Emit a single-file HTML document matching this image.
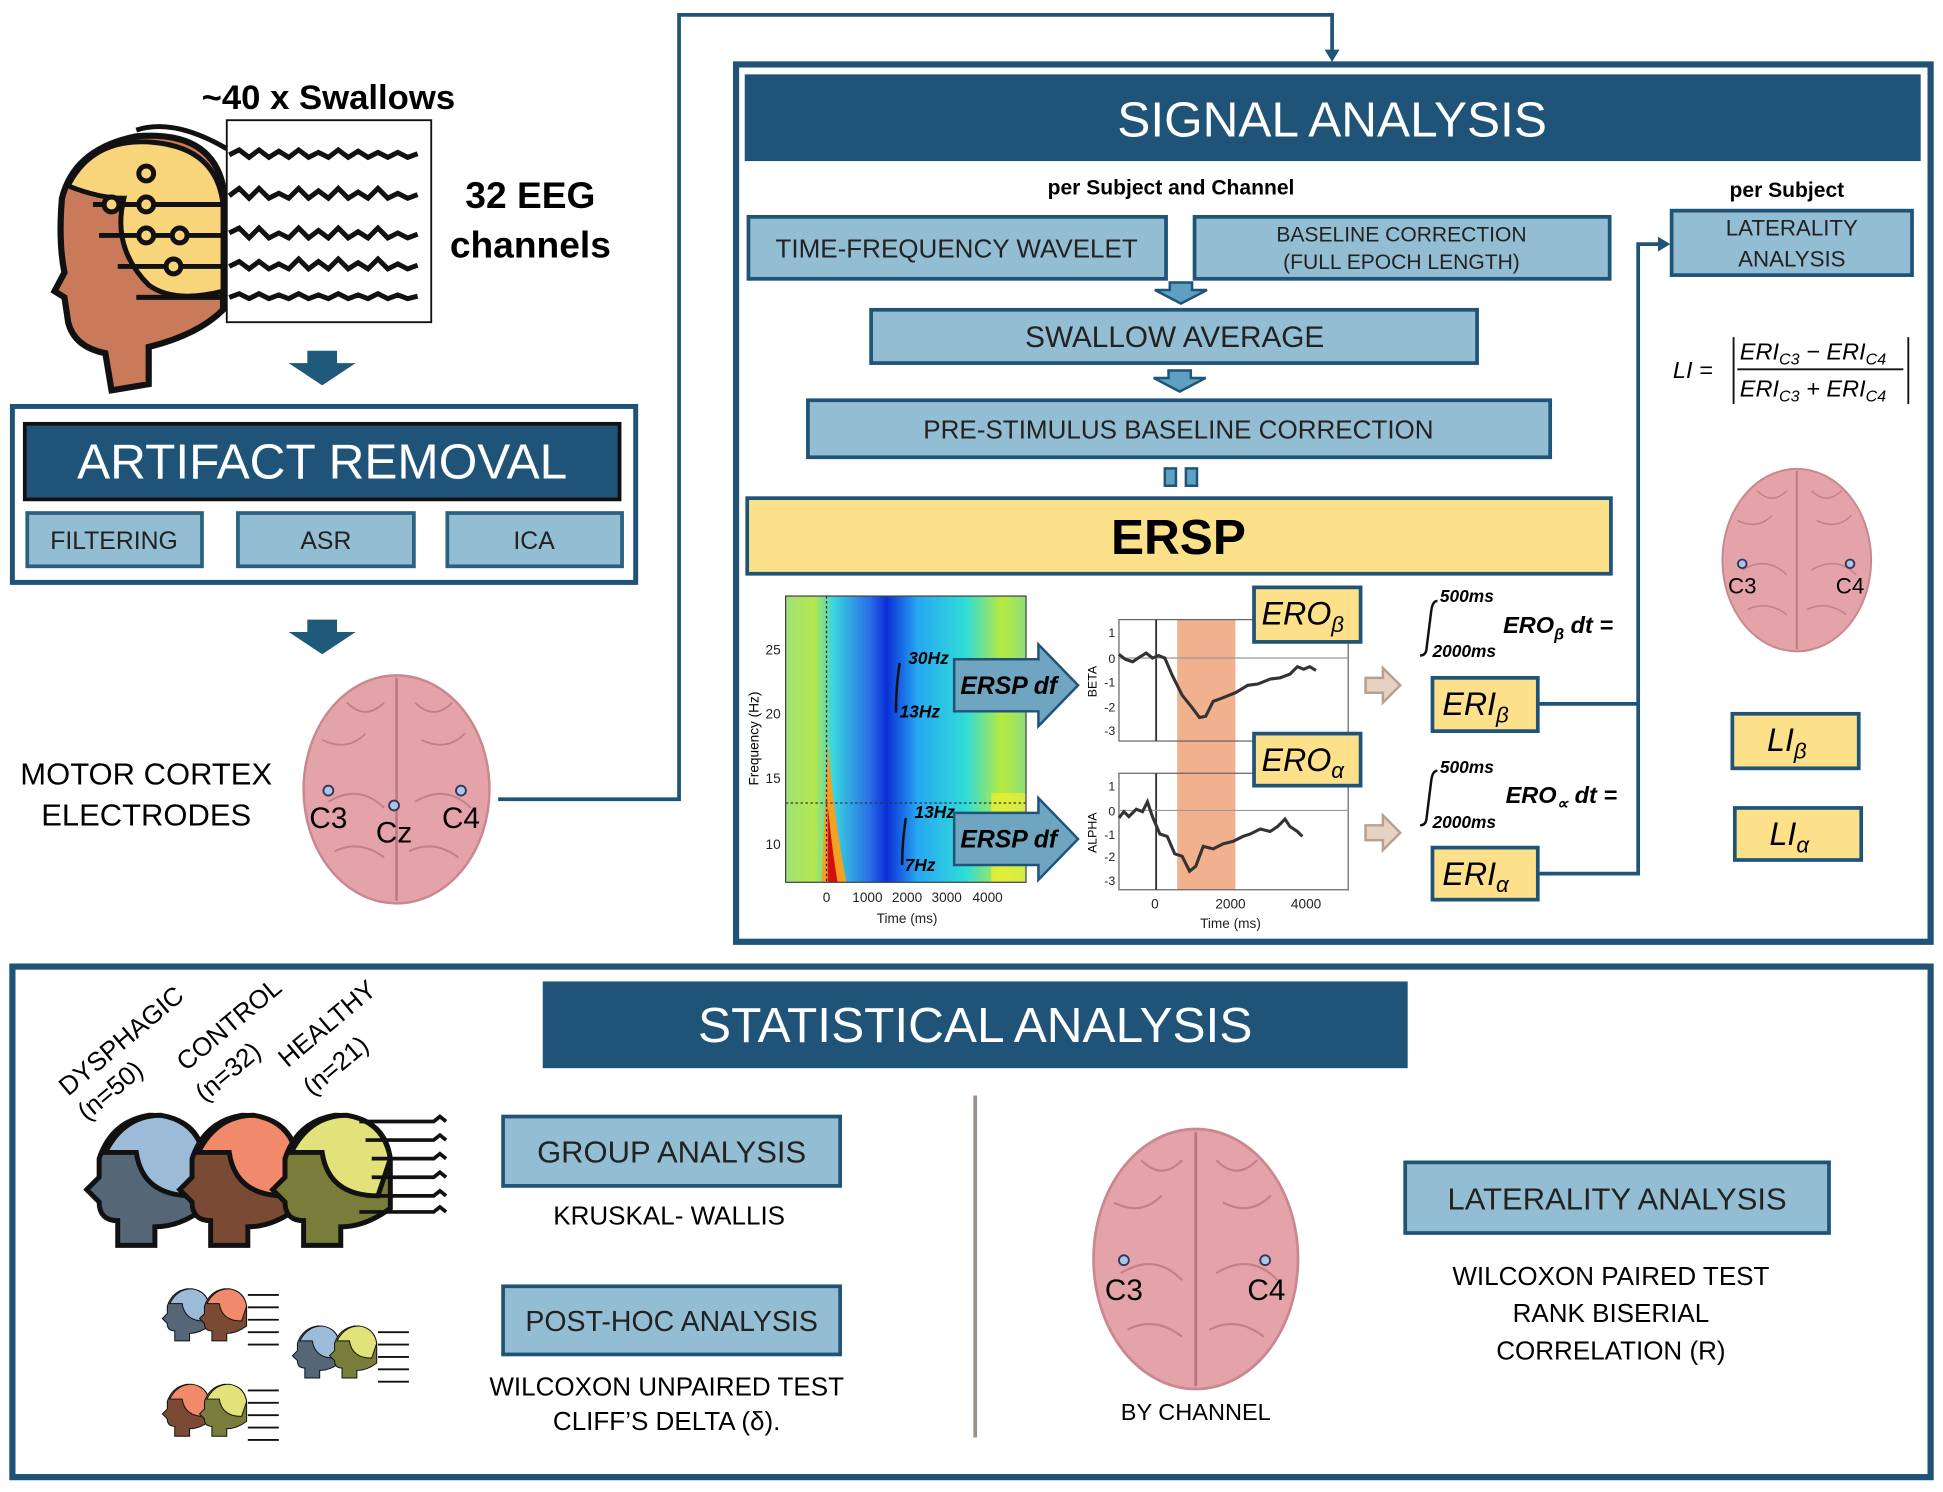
<!DOCTYPE html>
<html><head><meta charset="utf-8"><style>
html,body{margin:0;padding:0;background:#fff}
svg{display:block}
text{font-family:"Liberation Sans",sans-serif}
.s{font-family:"Liberation Serif",serif;font-style:italic}
</style></head><body>
<svg width="1943" height="1492" viewBox="0 0 1568 1204" preserveAspectRatio="none" xmlns="http://www.w3.org/2000/svg">
<defs>
<linearGradient id="hm" x1="0" x2="1" y1="0" y2="0">
<stop offset="0" stop-color="#9fe07a"/><stop offset="0.12" stop-color="#b5e84c"/><stop offset="0.2" stop-color="#38d4e0"/>
<stop offset="0.35" stop-color="#2a6ee6"/><stop offset="0.42" stop-color="#0b2fd6"/><stop offset="0.55" stop-color="#27a8f2"/>
<stop offset="0.75" stop-color="#30dcd8"/><stop offset="0.9" stop-color="#b8ea3e"/><stop offset="1" stop-color="#8ee07a"/>
</linearGradient>
<g id="brain">
<ellipse cx="0" cy="0" rx="75" ry="92" fill="#e3a3a8" stroke="#c98890" stroke-width="2"/>
<path d="M0,-90 L0,90" stroke="#b97880" stroke-width="2"/>
<path d="M-60,-40 q20,10 35,-5 M-55,10 q25,-15 45,5 M-50,50 q20,-10 40,5 M20,-40 q20,10 35,-5 M15,10 q25,-15 45,5 M10,50 q20,-10 40,5 M-40,-70 q15,15 30,0 M15,-70 q15,15 30,0" stroke="#c27f88" stroke-width="1.5" fill="none"/>
</g>
<g id="head">
<path d="M20,-70 q60,-20 80,30 l0,60 q-10,40 -30,50 l0,30 l-50,0 l0,-25 q-30,0 -30,-20 l0,-20 l-10,-10 l10,-20 q0,-50 30,-75z" stroke="#111" stroke-width="5"/>
</g>
</defs>

<!-- top-left EEG -->
<path d="M50,160 q10,-40 60,-50 q60,-5 70,40 l0,100 q-20,20 -60,30 l0,30 l-30,5 l-5,-30 q-25,-5 -30,-25 l-3,-20 l-8,-5 l8,-15 q-5,-25 -2,-60z" fill="#c87a5a" stroke="#111" stroke-width="5"/>
<path d="M55,150 q20,-40 70,-35 q50,5 55,50 l0,70 q-40,10 -60,-5 q-30,-30 -20,-70 q-20,0 -45,-10z" fill="#f8d57a" stroke="#111" stroke-width="4"/>
<g stroke="#111" stroke-width="4" fill="none">
<path d="M110,105 q30,-10 73,15"/>
<path d="M75,165 h108 M80,190 h103 M95,215 h88 M110,240 h73"/>
<circle cx="90" cy="165" r="6" fill="#f8d57a"/><circle cx="118" cy="165" r="6" fill="#f8d57a"/><circle cx="145" cy="190" r="6" fill="#f8d57a"/><circle cx="118" cy="190" r="6" fill="#f8d57a"/><circle cx="140" cy="215" r="6" fill="#f8d57a"/><circle cx="118" cy="140" r="6" fill="#f8d57a"/>
</g>
<rect x="183" y="97" width="165" height="163" fill="none" stroke="#111" stroke-width="1.5"/>
<g stroke="#111" stroke-width="4" fill="none">
<path d="M185,125 l8,-4 8,6 8,-6 8,6 8,-5 8,5 8,-6 8,6 8,-4 8,4 8,-6 8,6 8,-5 8,5 8,-4 8,4 8,-4 8,4 8,-3"/>
<path d="M185,158 l8,-6 8,8 8,-8 8,8 8,-4 8,4 8,-8 8,8 8,-6 8,6 8,-8 8,8 8,-5 8,5 8,-8 8,8 8,-4 8,4 8,-3"/>
<path d="M185,188 l8,-4 8,8 8,-8 8,8 8,-4 8,4 8,-8 8,8 8,-6 8,6 8,-8 8,8 8,-5 8,5 8,-8 8,8 8,-4 8,4 8,-3"/>
<path d="M185,215 l8,-4 8,6 8,-6 8,6 8,-4 8,4 8,-8 8,8 8,-6 8,6 8,-8 8,8 8,-5 8,5 8,-8 8,8 8,-4 8,4 8,-3"/>
<path d="M185,240 l8,-3 8,4 8,-4 8,4 8,-3 8,3 8,-4 8,4 8,-3 8,3 8,-4 8,4 8,-3 8,3 8,-4 8,4 8,-3 8,3 8,-2"/>
</g>
<text x="265" y="88" font-size="28" font-weight="bold" text-anchor="middle">~40 x Swallows</text>
<text x="428" y="168" font-size="30" font-weight="bold" text-anchor="middle">32 EEG</text>
<text x="428" y="208" font-size="30" font-weight="bold" text-anchor="middle">channels</text>

<path d="M248,283 h24 v10 h15 l-27,18 l-27,-18 h15z" fill="#1f5a7a"/>
<path d="M248,500 h24 v10 h15 l-27,18 l-27,-18 h15z" fill="#1f5a7a"/>

<!-- artifact removal -->
<rect x="10" y="328" width="503" height="142" fill="none" stroke="#1f5478" stroke-width="4"/>
<rect x="20" y="342" width="480" height="61" fill="#1f5478" stroke="#111" stroke-width="3"/>
<text x="260" y="386" font-size="40" fill="#fff" text-anchor="middle">ARTIFACT REMOVAL</text>
<g fill="#92bdd3" stroke="#2a6080" stroke-width="3">
<rect x="22" y="414" width="141" height="43"/><rect x="192" y="414" width="142" height="43"/><rect x="361" y="414" width="141" height="43"/>
</g>
<g font-size="20" text-anchor="middle" fill="#222">
<text x="92" y="443">FILTERING</text><text x="263" y="443">ASR</text><text x="431" y="443">ICA</text>
</g>

<!-- motor cortex -->
<use href="#brain" x="320" y="637"/>
<g fill="#a9c5e8" stroke="#335" stroke-width="1.5"><circle cx="265" cy="638" r="4"/><circle cx="318" cy="650" r="4"/><circle cx="372" cy="638" r="4"/></g>
<g font-size="24" text-anchor="middle"><text x="265" y="668">C3</text><text x="318" y="680">Cz</text><text x="372" y="668">C4</text></g>
<text x="118" y="633" font-size="25" text-anchor="middle">MOTOR CORTEX</text>
<text x="118" y="666" font-size="25" text-anchor="middle">ELECTRODES</text>

<path d="M402,645 H548 V12 H1075 V44" fill="none" stroke="#1f5478" stroke-width="3"/>
<path d="M1069,40 l6,10 l6,-10z" fill="#1f5478"/>

<!-- signal analysis -->
<rect x="594" y="52" width="964" height="708" fill="none" stroke="#1f5478" stroke-width="5"/>
<rect x="601" y="60" width="949" height="70" fill="#1f5478"/>
<text x="1075" y="110" font-size="40" fill="#fff" text-anchor="middle">SIGNAL ANALYSIS</text>
<text x="945" y="157" font-size="17" font-weight="bold" text-anchor="middle">per Subject and Channel</text>
<text x="1442" y="159" font-size="17" font-weight="bold" text-anchor="middle">per Subject</text>
<g fill="#92bdd3" stroke="#1f5478" stroke-width="3">
<rect x="604" y="175" width="337" height="50"/><rect x="964" y="175" width="335" height="50"/>
<rect x="1349" y="170" width="194" height="52"/>
<rect x="703" y="250" width="489" height="43"/><rect x="652" y="323" width="599" height="46"/>
</g>
<g fill="#222" text-anchor="middle">
<text x="772" y="208" font-size="21">TIME-FREQUENCY WAVELET</text>
<text x="1131" y="195" font-size="17">BASELINE CORRECTION</text>
<text x="1131" y="217" font-size="17">(FULL EPOCH LENGTH)</text>
<text x="1446" y="190" font-size="18">LATERALITY</text>
<text x="1446" y="215" font-size="18">ANALYSIS</text>
<text x="948" y="280" font-size="24">SWALLOW AVERAGE</text>
<text x="951" y="354" font-size="21">PRE-STIMULUS BASELINE CORRECTION</text>
</g>
<path d="M944,228 h18 v6 h12 l-21,11 l-21,-11 h12z" fill="#5f9fc1" stroke="#1f5478" stroke-width="2"/>
<path d="M943,299 h18 v6 h12 l-21,11 l-21,-11 h12z" fill="#5f9fc1" stroke="#1f5478" stroke-width="2"/>
<rect x="940" y="378" width="9" height="14" fill="#5f9fc1" stroke="#1f5478" stroke-width="2"/>
<rect x="957" y="378" width="9" height="14" fill="#5f9fc1" stroke="#1f5478" stroke-width="2"/>
<rect x="603" y="402" width="697" height="61" fill="#fde08a" stroke="#1f5478" stroke-width="3"/>
<text x="951" y="447" font-size="40" font-weight="bold" text-anchor="middle">ERSP</text>

<!-- heatmap -->
<rect x="634" y="481" width="194" height="231" fill="url(#hm)"/>
<path d="M668,600 q5,60 15,112 h-20 z" fill="#f5a020"/>
<path d="M668,650 q4,40 8,62 h-8z" fill="#d21010"/>
<rect x="800" y="640" width="28" height="72" fill="#f2f030" opacity="0.7"/>
<line x1="667" y1="481" x2="667" y2="712" stroke="#222" stroke-dasharray="2,2"/>
<line x1="634" y1="648" x2="828" y2="648" stroke="#333" stroke-dasharray="2,2"/>
<rect x="634" y="481" width="194" height="231" fill="none" stroke="#444"/>
<g font-size="11" fill="#222" text-anchor="end"><text x="630" y="528">25</text><text x="630" y="580">20</text><text x="630" y="632">15</text><text x="630" y="685">10</text></g>
<g font-size="11" fill="#222" text-anchor="middle"><text x="667" y="728">0</text><text x="700" y="728">1000</text><text x="732" y="728">2000</text><text x="764" y="728">3000</text><text x="797" y="728">4000</text><text x="732" y="745">Time (ms)</text></g>
<text x="612" y="596" font-size="11" transform="rotate(-90 612 596)" text-anchor="middle">Frequency (Hz)</text>
<g class="s" font-weight="bold" font-size="14"><text x="733" y="536">30Hz</text><text x="726" y="579">13Hz</text><text x="738" y="660">13Hz</text><text x="730" y="703">7Hz</text></g>
<path d="M726,535 q-3,20 -3,40 M731,660 q-3,20 -3,38" stroke="#111" stroke-width="2" fill="none"/>
<g fill="#6fa5c0" stroke="#1f5478" stroke-width="2">
<path d="M770,532 h68 v-12 l32,33 l-32,33 v-12 h-68z"/>
<path d="M770,656 h68 v-12 l32,33 l-32,33 v-12 h-68z"/>
</g>
<g class="s" font-weight="bold" font-size="20"><text x="775" y="560">ERSP df</text><text x="775" y="684">ERSP df</text></g>

<!-- line charts -->
<rect x="950" y="500" width="47" height="218" fill="#f0a882" opacity="0.9"/>
<rect x="903" y="500" width="185" height="98" fill="none" stroke="#666"/>
<rect x="903" y="624" width="185" height="94" fill="none" stroke="#666"/>
<line x1="933" y1="500" x2="933" y2="598" stroke="#333" stroke-width="1.5"/>
<line x1="933" y1="624" x2="933" y2="718" stroke="#333" stroke-width="1.5"/>
<line x1="903" y1="531" x2="1088" y2="531" stroke="#999"/>
<line x1="903" y1="654" x2="1088" y2="654" stroke="#999"/>
<path d="M903,528 l5,4 6,2 6,-4 5,-3 5,4 5,-2 5,2 6,14 8,16 8,10 6,8 5,-1 6,-12 8,-3 10,-4 10,-6 8,-1 10,-4 8,-1 8,-3 6,-6 5,2 5,-2 5,3" fill="none" stroke="#333" stroke-width="2.5"/>
<path d="M903,660 l4,-5 4,4 6,-6 5,2 4,-8 4,12 6,14 6,2 6,14 6,2 6,12 5,-4 6,-16 8,2 8,-4 8,-2 8,-4 6,-2 8,-4 8,2 6,-4 6,-6 4,6 6,4 4,4" fill="none" stroke="#333" stroke-width="2.5"/>
<g font-size="10" fill="#222" text-anchor="end"><text x="900" y="514">1</text><text x="900" y="535">0</text><text x="900" y="554">-1</text><text x="900" y="574">-2</text><text x="900" y="593">-3</text>
<text x="900" y="638">1</text><text x="900" y="658">0</text><text x="900" y="677">-1</text><text x="900" y="695">-2</text><text x="900" y="714">-3</text></g>
<g font-size="11" fill="#222" text-anchor="middle"><text x="932" y="733">0</text><text x="993" y="733">2000</text><text x="1054" y="733">4000</text><text x="993" y="749">Time (ms)</text></g>
<text x="885" y="550" font-size="10" transform="rotate(-90 885 550)" text-anchor="middle">BETA</text>
<text x="885" y="672" font-size="10" transform="rotate(-90 885 672)" text-anchor="middle">ALPHA</text>

<g fill="#fde08a" stroke="#1f5478" stroke-width="3">
<rect x="1012" y="474" width="86" height="44"/><rect x="1012" y="592" width="86" height="42"/>
<rect x="1156" y="547" width="85" height="43"/><rect x="1156" y="684" width="85" height="42"/>
<rect x="1398" y="576" width="102" height="44"/><rect x="1400" y="652" width="102" height="42"/>
</g>
<g class="s" font-size="26"><text x="1018" y="504">ERO<tspan font-size="18" dy="6">β</tspan></text>
<text x="1018" y="622">ERO<tspan font-size="18" dy="6">α</tspan></text>
<text x="1164" y="577">ERI<tspan font-size="18" dy="6">β</tspan></text>
<text x="1164" y="714">ERI<tspan font-size="18" dy="6">α</tspan></text>
<text x="1426" y="606">LI<tspan font-size="18" dy="6">β</tspan></text>
<text x="1428" y="682">LI<tspan font-size="18" dy="6">α</tspan></text></g>

<path d="M1102,547 h14 v-8 l14,14 l-14,14 v-8 h-14z" fill="#e6d2c2" stroke="#b8a090" stroke-width="2"/>
<path d="M1102,666 h14 v-8 l14,14 l-14,14 v-8 h-14z" fill="#e6d2c2" stroke="#b8a090" stroke-width="2"/>

<g class="s" font-weight="bold">
<text x="1162" y="486" font-size="14">500ms</text><text x="1156" y="530" font-size="14">2000ms</text>
<text x="1213" y="511" font-size="19">ERO<tspan font-size="13" dy="5">β</tspan><tspan dy="-5"> dt =</tspan></text>
<text x="1162" y="624" font-size="14">500ms</text><text x="1156" y="668" font-size="14">2000ms</text>
<text x="1215" y="648" font-size="19">ERO<tspan font-size="13" dy="5">∝</tspan><tspan dy="-5"> dt =</tspan></text>
</g>
<path d="M1160,485 q-4,0 -5,8 l-4,32 q-1,4 -5,4 M1160,622 q-4,0 -5,8 l-4,32 q-1,4 -5,4" stroke="#111" stroke-width="2" fill="none"/>

<path d="M1241,568 H1322 M1241,705 H1322 V197 H1340" fill="none" stroke="#1f5478" stroke-width="3"/>
<path d="M1338,191 l10,6 l-10,6z" fill="#1f5478"/>

<!-- LI formula -->
<g class="s" font-size="19"><text x="1350" y="305">LI =</text>
<text x="1404" y="290">ERI<tspan font-size="13" dy="4">C3</tspan><tspan dy="-4"> − ERI</tspan><tspan font-size="13" dy="4">C4</tspan></text>
<text x="1404" y="320">ERI<tspan font-size="13" dy="4">C3</tspan><tspan dy="-4"> + ERI</tspan><tspan font-size="13" dy="4">C4</tspan></text></g>
<line x1="1402" y1="298" x2="1536" y2="298" stroke="#111" stroke-width="1.5"/>
<path d="M1399,272 V326 M1540,272 V326" stroke="#111" stroke-width="1.5"/>

<g transform="translate(1450,452) scale(0.8)"><use href="#brain"/></g>
<g fill="#a9c5e8" stroke="#335" stroke-width="1.5"><circle cx="1406" cy="455" r="3.5"/><circle cx="1493" cy="455" r="3.5"/></g>
<g font-size="18" text-anchor="middle"><text x="1406" y="479">C3</text><text x="1493" y="479">C4</text></g>

<!-- statistical -->
<rect x="10" y="780" width="1548" height="412" fill="none" stroke="#1f5478" stroke-width="5"/>
<rect x="438" y="792" width="698" height="70" fill="#1f5478"/>
<text x="787" y="841" font-size="40" fill="#fff" text-anchor="middle">STATISTICAL ANALYSIS</text>
<g font-size="21">
<text transform="translate(55,885) rotate(-40)">DYSPHAGIC</text><text transform="translate(70,905) rotate(-40)">(n=50)</text>
<text transform="translate(150,865) rotate(-40)">CONTROL</text><text transform="translate(165,890) rotate(-40)">(n=32)</text>
<text transform="translate(232,862) rotate(-40)">HEALTHY</text><text transform="translate(252,885) rotate(-40)">(n=21)</text>
</g>
<!-- group heads -->
<g stroke="#111" stroke-width="4">
<path d="M80,935 q10,-30 40,-35 q40,0 45,35 l0,40 q-20,15 -40,15 l0,15 l-30,0 l0,-20 q-15,0 -15,-15 l-10,-10 l10,-10z" fill="#556677"/>
<path d="M85,930 q15,-30 45,-30 q30,5 35,35 l-10,30 q-40,0 -45,-35z" fill="#9bbbd9"/>
<path d="M155,935 q10,-30 40,-35 q40,0 45,35 l0,40 q-20,15 -40,15 l0,15 l-30,0 l0,-20 q-15,0 -15,-15 l-10,-10 l10,-10z" fill="#7b4a35"/>
<path d="M160,930 q15,-30 45,-30 q30,5 35,35 l-10,30 q-40,0 -45,-35z" fill="#f08a6a"/>
<path d="M230,935 q10,-30 40,-35 q40,0 45,35 l0,40 q-20,15 -40,15 l0,15 l-30,0 l0,-20 q-15,0 -15,-15 l-10,-10 l10,-10z" fill="#7a7d3a"/>
<path d="M235,930 q15,-30 45,-30 q30,5 35,35 l-10,30 q-40,0 -45,-35z" fill="#e2e27a"/>
</g>
<g stroke="#111" stroke-width="3" fill="none">
<path d="M290,905 h60 l5,-4 5,4 M295,920 h55 l5,-4 5,4 M300,935 h50 l5,-4 5,4 M300,950 h50 l5,-4 5,4 M295,965 h55 l5,-4 5,4 M290,978 h60 l5,-4 5,4"/>
</g>
<!-- small heads -->
<g stroke="#111" stroke-width="2">
<g transform="translate(135,1040) scale(0.4)"><path d="M0,35 q10,-30 40,-35 q40,0 45,35 l0,40 q-20,15 -40,15 l0,15 l-30,0 l0,-20 q-15,0 -15,-15 l-10,-10 l10,-10z" fill="#556677"/><path d="M5,30 q15,-30 45,-30 q30,5 35,35 l-10,30 q-40,0 -45,-35z" fill="#9bbbd9"/><path d="M75,35 q10,-30 40,-35 q40,0 45,35 l0,40 q-20,15 -40,15 l0,15 l-30,0 l0,-20 q-15,0 -15,-15 l-10,-10 l10,-10z" fill="#7b4a35"/><path d="M80,30 q15,-30 45,-30 q30,5 35,35 l-10,30 q-40,0 -45,-35z" fill="#f08a6a"/></g>
<g transform="translate(240,1070) scale(0.4)"><path d="M0,35 q10,-30 40,-35 q40,0 45,35 l0,40 q-20,15 -40,15 l0,15 l-30,0 l0,-20 q-15,0 -15,-15 l-10,-10 l10,-10z" fill="#556677"/><path d="M5,30 q15,-30 45,-30 q30,5 35,35 l-10,30 q-40,0 -45,-35z" fill="#9bbbd9"/><path d="M75,35 q10,-30 40,-35 q40,0 45,35 l0,40 q-20,15 -40,15 l0,15 l-30,0 l0,-20 q-15,0 -15,-15 l-10,-10 l10,-10z" fill="#7a7d3a"/><path d="M80,30 q15,-30 45,-30 q30,5 35,35 l-10,30 q-40,0 -45,-35z" fill="#e2e27a"/></g>
<g transform="translate(135,1117) scale(0.4)"><path d="M0,35 q10,-30 40,-35 q40,0 45,35 l0,40 q-20,15 -40,15 l0,15 l-30,0 l0,-20 q-15,0 -15,-15 l-10,-10 l10,-10z" fill="#7b4a35"/><path d="M5,30 q15,-30 45,-30 q30,5 35,35 l-10,30 q-40,0 -45,-35z" fill="#f08a6a"/><path d="M75,35 q10,-30 40,-35 q40,0 45,35 l0,40 q-20,15 -40,15 l0,15 l-30,0 l0,-20 q-15,0 -15,-15 l-10,-10 l10,-10z" fill="#7a7d3a"/><path d="M80,30 q15,-30 45,-30 q30,5 35,35 l-10,30 q-40,0 -45,-35z" fill="#e2e27a"/></g>
</g>
<g stroke="#111" stroke-width="1.5" fill="none">
<path d="M200,1045 h25 M200,1055 h25 M200,1065 h25 M200,1075 h25 M200,1085 h25"/>
<path d="M305,1075 h25 M305,1085 h25 M305,1095 h25 M305,1105 h25 M305,1115 h25"/>
<path d="M200,1122 h25 M200,1132 h25 M200,1142 h25 M200,1152 h25 M200,1162 h25"/>
</g>

<g fill="#92bdd3" stroke="#1f5478" stroke-width="3">
<rect x="406" y="901" width="272" height="56"/><rect x="406" y="1038" width="272" height="55"/>
<rect x="1134" y="938" width="342" height="57"/>
</g>
<g text-anchor="middle" fill="#222">
<text x="542" y="938" font-size="25">GROUP ANALYSIS</text>
<text x="542" y="1074" font-size="23">POST-HOC ANALYSIS</text>
<text x="1305" y="976" font-size="25">LATERALITY ANALYSIS</text>
</g>
<g text-anchor="middle" font-size="21">
<text x="540" y="988">KRUSKAL- WALLIS</text>
<text x="538" y="1126">WILCOXON UNPAIRED TEST</text>
<text x="538" y="1154">CLIFF’S DELTA (δ).</text>
<text x="1300" y="1037">WILCOXON PAIRED TEST</text>
<text x="1300" y="1067">RANK BISERIAL</text>
<text x="1300" y="1097">CORRELATION (R)</text>
<text x="965" y="1146" font-size="19">BY CHANNEL</text>
</g>
<line x1="787" y1="884" x2="787" y2="1160" stroke="#9a8f86" stroke-width="3"/>
<g transform="translate(965,1016) scale(1.1,1.14)"><use href="#brain"/></g>
<g fill="#a9c5e8" stroke="#335" stroke-width="1.5"><circle cx="907" cy="1017" r="4"/><circle cx="1021" cy="1017" r="4"/></g>
<g font-size="24" text-anchor="middle"><text x="907" y="1049">C3</text><text x="1022" y="1049">C4</text></g>
</svg>
</body></html>
